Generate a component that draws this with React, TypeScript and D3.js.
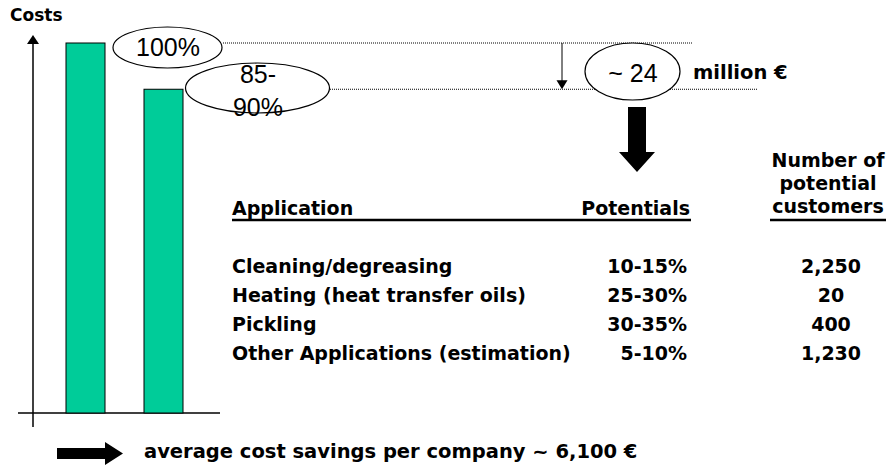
import React from 'react';
import * as d3 from 'd3';

// bar chart: cost today vs. cost after optimisation (index, today = 100)
const barCategories = ['Today', 'Optimised'];
const barValues = [100, 87.5];
const barLabels = [['100%'], ['85-', '90%']];

const savingsLabel = '~ 24';
const savingsUnit = 'million €';

// table
const applications = [
  'Cleaning/degreasing',
  'Heating (heat transfer oils)',
  'Pickling',
  'Other Applications (estimation)',
];
const potentials = ['10-15%', '25-30%', '30-35%', '5-10%'];
const customers = ['2,250', '20', '400', '1,230'];
const customerHeader = ['Number of', 'potential', 'customers'];

const footnote = 'average cost savings per company ~ 6,100 €';

const BOLD = { fontFamily: '"DejaVu Sans", Verdana, sans-serif', fontWeight: 'bold' as const };
const PLAIN = { fontFamily: '"Liberation Sans", Arial, sans-serif' };

const App: React.FC = () => {
  const width = 890;
  const height = 465;

  const y = d3.scaleLinear().domain([0, 100]).range([413, 43]);
  const x = d3
    .scaleBand<string>()
    .domain(barCategories)
    .range([46.5, 202.5])
    .paddingInner(0.5)
    .paddingOuter(0.25);
  const rowY = d3.scalePoint<string>().domain(applications).range([273, 360]);

  const axisX = 33;
  const topLine = y(barValues[0]);
  const lowLine = y(barValues[1]);

  return (
    <svg
      width={width}
      height={height}
      style={{ position: 'absolute', left: 0, top: 0, background: '#fff' }}
    >
      <defs>
        <pattern id="none" />
      </defs>

      {/* axis */}
      <text x={10} y={21} fontSize={17} {...BOLD}>Costs</text>
      <line x1={axisX} x2={axisX} y1={42} y2={427} stroke="#000" strokeWidth={1.5} />
      <path d={`M${axisX - 6},44 L${axisX},35 L${axisX + 6},44 Z`} fill="#000" />
      <line x1={18} x2={220} y1={y(0)} y2={y(0)} stroke="#000" strokeWidth={1.5} />

      {/* bars */}
      {barCategories.map((c, i) => (
        <rect
          key={c}
          x={x(c)}
          y={y(barValues[i])}
          width={x.bandwidth()}
          height={y(0) - y(barValues[i])}
          fill="#00CC99"
          stroke="#000"
          strokeWidth={1}
        />
      ))}

      {/* dotted reference lines */}
      <line x1={223} x2={692} y1={topLine} y2={topLine} stroke="#000" strokeWidth={1} strokeDasharray="1,1" />
      <line x1={330} x2={757} y1={lowLine} y2={lowLine} stroke="#000" strokeWidth={1} strokeDasharray="1,1" />

      {/* thin arrow between the lines */}
      <line x1={562} x2={562} y1={topLine} y2={lowLine - 8} stroke="#000" strokeWidth={1} />
      <path d={`M556.5,${lowLine - 9} L567.5,${lowLine - 9} L562,${lowLine} Z`} fill="#000" />

      {/* value bubbles */}
      <ellipse cx={167.5} cy={47.5} rx={54.5} ry={20.5} fill="#fff" stroke="#000" strokeWidth={1.2} />
      <text x={168} y={56} textAnchor="middle" fontSize={25} {...PLAIN}>{barLabels[0][0]}</text>

      <ellipse cx={257.5} cy={88} rx={72} ry={25} fill="#fff" stroke="#000" strokeWidth={1.2} />
      {barLabels[1].map((t, i) => (
        <text key={t} x={258} y={83 + i * 33} textAnchor="middle" fontSize={25} {...PLAIN}>{t}</text>
      ))}

      <ellipse cx={632.5} cy={71.5} rx={47.5} ry={28.5} fill="#fff" stroke="#000" strokeWidth={1.2} />
      <text x={633} y={82} textAnchor="middle" fontSize={25} {...PLAIN}>{savingsLabel}</text>
      <text x={693} y={79} fontSize={19.5} {...BOLD}>{savingsUnit}</text>

      {/* fat down arrow */}
      <path d="M628,107 L646,107 L646,152 L655,152 L637,172 L619,152 L628,152 Z" fill="#000" />

      {/* table header */}
      <text x={232} y={215} fontSize={19} {...BOLD}>Application</text>
      <text x={690} y={215} textAnchor="end" fontSize={19} {...BOLD}>Potentials</text>
      <line x1={232} x2={691} y1={220} y2={220} stroke="#000" strokeWidth={2.5} />
      {customerHeader.map((t, i) => (
        <text key={t} x={828} y={167 + i * 23} textAnchor="middle" fontSize={19} {...BOLD}>{t}</text>
      ))}
      <line x1={770} x2={886} y1={220} y2={220} stroke="#000" strokeWidth={2.5} />

      {/* table rows */}
      {applications.map((a, i) => (
        <g key={a}>
          <text x={232} y={rowY(a)} fontSize={19} {...BOLD}>{a}</text>
          <text x={687} y={rowY(a)} textAnchor="end" fontSize={19} {...BOLD}>{potentials[i]}</text>
          <text x={831} y={rowY(a)} textAnchor="middle" fontSize={19} {...BOLD}>{customers[i]}</text>
        </g>
      ))}

      {/* footnote with fat right arrow */}
      <path d="M57,448 L105,448 L105,442 L123,453.5 L105,465 L105,459 L57,459 Z" fill="#000" />
      <text x={144} y={458} fontSize={19.5} {...BOLD}>{footnote}</text>
    </svg>
  );
};

export default App;
